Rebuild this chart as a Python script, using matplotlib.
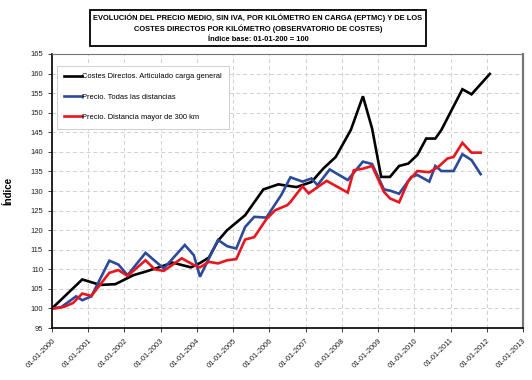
import matplotlib
matplotlib.use("Agg")
import matplotlib.pyplot as plt
import matplotlib.dates as mdates
import pandas as pd

# Costes directos, articulado carga general
cost_dates = ["2000-01", "2000-11", "2001-05", "2001-10", "2002-04", "2002-08", "2002-12",
              "2003-05", "2003-11", "2004-02", "2004-05", "2004-08", "2004-11", "2005-05",
              "2005-11", "2006-04", "2006-10", "2007-03", "2007-07", "2007-11", "2008-04",
              "2008-08", "2008-11", "2009-02", "2009-05", "2009-08", "2009-11", "2010-02",
              "2010-05", "2010-08", "2010-10", "2011-05", "2011-08", "2011-11", "2012-02"]
cost_vals = [100.0, 107.4, 106.0, 106.2, 108.5, 109.4, 110.4,
             111.7, 110.5, 111.6, 113.0, 117.3, 120.0, 123.8,
             130.4, 131.7, 131.0, 132.3, 135.8, 138.7, 145.6,
             154.2, 146.0, 133.6, 133.6, 136.4, 137.0, 139.2,
             143.4, 143.4, 145.6, 156.0, 154.7, 157.3, 159.9]

# Precio, todas las distancias
all_dates = ["2000-01", "2000-04", "2000-09", "2000-11", "2001-02", "2001-08", "2001-11",
             "2002-02", "2002-08", "2003-02", "2003-09", "2003-12", "2004-02", "2004-08",
             "2004-11", "2005-02", "2005-05", "2005-08", "2005-12", "2006-05", "2006-08",
             "2006-12", "2007-03", "2007-05", "2007-09", "2008-03", "2008-08", "2008-11",
             "2009-03", "2009-05", "2009-08", "2009-12", "2010-02", "2010-06", "2010-08",
             "2010-10", "2011-02", "2011-05", "2011-08", "2011-11"]
all_vals = [100.0, 100.3, 103.1, 102.1, 103.1, 112.2, 111.2,
            108.5, 114.2, 110.2, 116.2, 113.6, 108.1, 117.5,
            115.9, 115.3, 120.8, 123.4, 123.2, 129.0, 133.5,
            132.4, 133.2, 131.5, 135.5, 132.8, 137.5, 136.9,
            130.4, 130.1, 129.3, 133.6, 134.1, 132.4, 136.4,
            135.1, 135.1, 139.4, 137.9, 134.3]

# Precio, distancia mayor de 300 km
long_dates = ["2000-01", "2000-05", "2000-08", "2000-11", "2001-02", "2001-08", "2001-11",
              "2002-02", "2002-08", "2002-11", "2003-02", "2003-08", "2003-12", "2004-02",
              "2004-05", "2004-08", "2004-11", "2005-02", "2005-05", "2005-08", "2005-12",
              "2006-03", "2006-07", "2006-08", "2006-12", "2007-02", "2007-08", "2008-03",
              "2008-05", "2008-08", "2008-11", "2009-03", "2009-05", "2009-08", "2009-11",
              "2010-02", "2010-06", "2010-09", "2010-12", "2011-02", "2011-05", "2011-08",
              "2011-11"]
long_vals = [99.9, 100.4, 101.4, 103.8, 103.2, 109.1, 109.8,
             108.3, 112.3, 110.0, 109.6, 112.8, 111.1, 110.5,
             111.9, 111.5, 112.3, 112.6, 117.6, 118.2, 122.8,
             125.1, 126.4, 127.2, 131.2, 129.4, 132.6, 129.6,
             135.3, 135.7, 136.4, 129.8, 128.1, 127.1, 132.5,
             135.1, 134.8, 136.2, 138.3, 138.7, 142.3, 139.8,
             139.8]

labels = ["Costes Directos. Articulado carga general",
          "Precio. Todas las distancias",
          "Precio. Distancia mayor de 300 km"]
colors = ["#000000", "#2B4A9B", "#E8161E"]

title = ("EVOLUCIÓN DEL PRECIO MEDIO, SIN IVA, POR KILÓMETRO EN CARGA (EPTMC) Y DE LOS\n"
         "COSTES DIRECTOS POR KILÓMETRO (OBSERVATORIO DE COSTES)\n"
         "Índice base: 01-01-200 = 100")

plt.rcParams["font.family"] = ["Liberation Sans", "DejaVu Sans"]

fig = plt.figure(figsize=(5.32, 3.8), dpi=100)
ax = fig.add_axes((52 / 532, 1 - 328 / 380, 471 / 532, 274 / 380))

series = [(cost_dates, cost_vals), (all_dates, all_vals), (long_dates, long_vals)]
for (d, v), lab, col in zip(series, labels, colors):
    ax.plot(pd.to_datetime(d), v, color=col, lw=1.9, label=lab, solid_joinstyle="miter")

ax.set_xlim(pd.Timestamp("2000-01-01"), pd.Timestamp("2013-01-01"))
ax.set_ylim(95, 165)
ax.set_yticks(range(95, 166, 5))
ax.xaxis.set_major_locator(mdates.YearLocator())
ax.xaxis.set_major_formatter(mdates.DateFormatter("%d-%m-%Y"))
plt.setp(ax.get_xticklabels(), rotation=45, ha="right", rotation_mode="anchor")
ax.tick_params(labelsize=5.5, length=3, width=0.6, colors="#222222")

ax.grid(True, ls=(0, (4, 3)), color="#d0d0d0", lw=0.7)
ax.set_axisbelow(True)

ax.spines["left"].set_linewidth(1.2)
ax.spines["bottom"].set_linewidth(1.2)
ax.spines["right"].set_color("#777777")
ax.spines["right"].set_linewidth(1.6)
ax.spines["top"].set_color("#777777")
ax.spines["top"].set_linewidth(0.8)

ax.set_ylabel("Índice", fontsize=7, fontweight="bold", labelpad=12)

leg = ax.legend(loc="upper left", bbox_to_anchor=(0.01, 0.958), fontsize=5.4,
                handlelength=2.4, handletextpad=0.0, labelspacing=1.75,
                borderpad=1.0, borderaxespad=0.0, fancybox=False, framealpha=1,
                edgecolor="#c8c8c8")
leg.get_frame().set_linewidth(0.6)

fig.text(258 / 532, 1 - 28 / 380, title, ha="center", va="center", fontsize=5.4,
         fontweight="bold", linespacing=1.45,
         bbox=dict(boxstyle="square,pad=0.5", fc="white", ec="black", lw=1.3))

fig.savefig("out.png", dpi=100)
